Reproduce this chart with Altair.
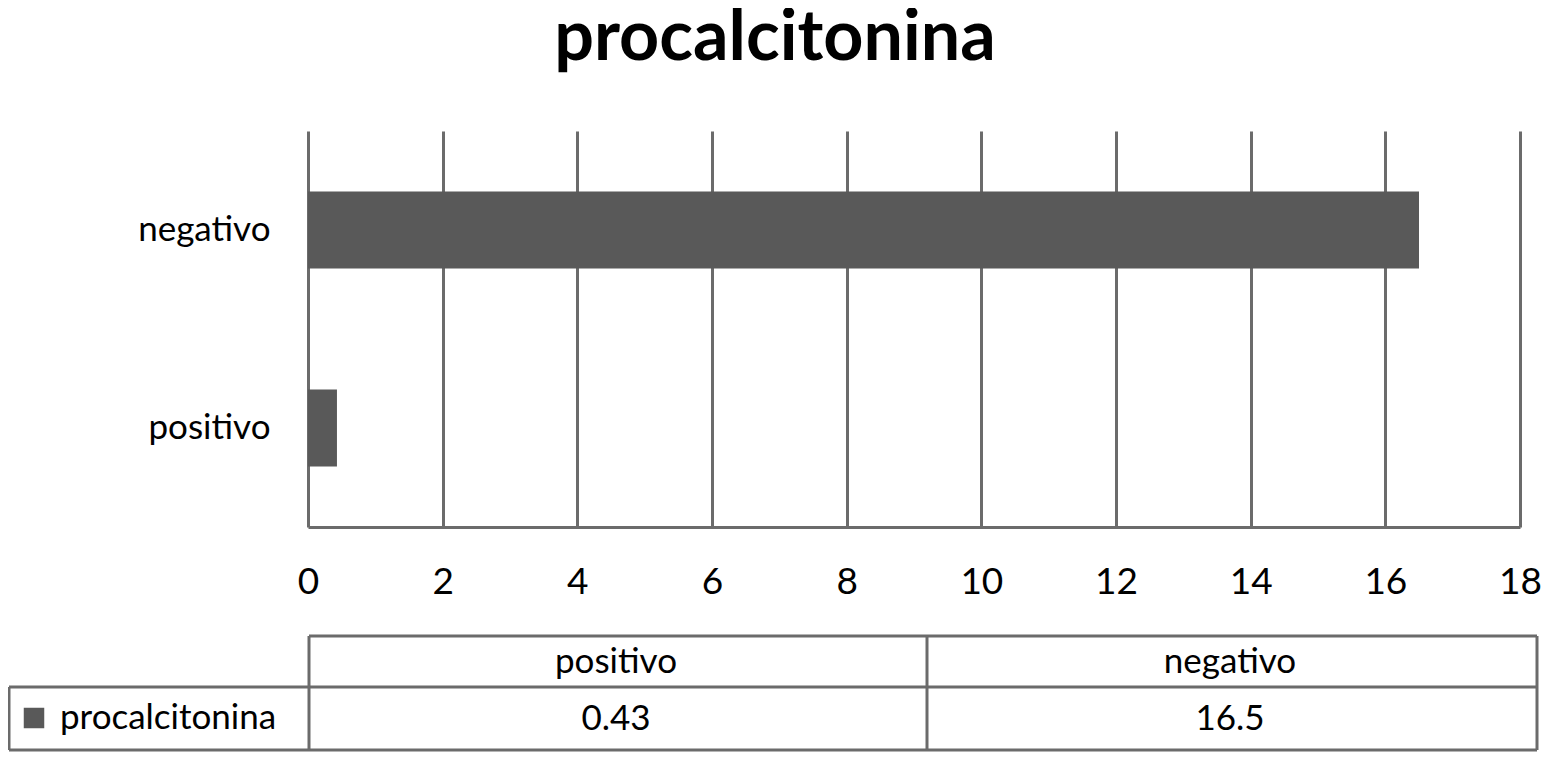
import altair as alt
import pandas as pd

# ---- data ----
categories = ["positivo", "negativo"]
values = [0.43, 16.5]
series_name = "procalcitonina"
value_labels = ["0.43", "16.5"]
x_ticks = [0, 2, 4, 6, 8, 10, 12, 14, 16, 18]
chart_title = "procalcitonina"

df = pd.DataFrame({
    "cat": categories,
    "val": values,
    "label": value_labels,
    "series": [series_name] * len(categories),
})

FONT = "Lato"
GRID = "#6b6b6b"
BAR = "#595959"

base = alt.Chart(df)

bars = base.mark_bar(color=BAR, size=77).encode(
    x=alt.X("val:Q", scale=alt.Scale(domain=[0, 18], nice=False),
            axis=alt.Axis(values=x_ticks, title=None, grid=True, gridColor=GRID, gridWidth=3,
                          gridOpacity=1, domain=True, domainColor=GRID, domainWidth=3,
                          ticks=False, labelFontSize=37, labelColor="black", labelFont=FONT,
                          labelPadding=37, labelFlush=False)),
    y=alt.Y("cat:N", sort=["negativo", "positivo"],
            scale=alt.Scale(paddingInner=0, paddingOuter=0),
            axis=alt.Axis(title=None, domain=False, ticks=False, grid=False,
                          labelFontSize=35, labelColor="black", labelFont=FONT,
                          labelPadding=38)),
)

table_x = alt.X("cat:N", sort=categories,
                scale=alt.Scale(range=[1, 1229], paddingInner=0, paddingOuter=0),
                axis=None)

header = base.mark_text(fontSize=35, font=FONT, color="black", baseline="middle").encode(
    x=table_x, y=alt.value(531), text="cat:N")
vals = base.mark_text(fontSize=35, font=FONT, color="black", baseline="middle").encode(
    x=table_x, y=alt.value(588), text="label:N")

one = alt.Data(values=[{}])
def hrule(x1, x2, y):
    return alt.Chart(one).mark_rule(color=GRID, strokeWidth=3).encode(
        x=alt.value(x1), x2=alt.value(x2), y=alt.value(y))
def vrule(x, y1, y2):
    return alt.Chart(one).mark_rule(color=GRID, strokeWidth=3).encode(
        x=alt.value(x), y=alt.value(y1), y2=alt.value(y2))

rules = [
    hrule(1, 1229, 505),
    hrule(-299, 1229, 556),
    hrule(-299, 1229, 619),
    vrule(1, 505, 619),
    vrule(619, 505, 619),
    vrule(1229, 505, 619),
    vrule(-299, 556, 619),
]

legend_sq = alt.Chart(df.iloc[:1]).mark_point(shape="square", filled=True, color=BAR, size=420,
                                                opacity=1).encode(
    x=alt.value(-274), y=alt.value(587))
legend_tx = alt.Chart(df.iloc[:1]).mark_text(fontSize=35, font=FONT, color="black", align="left",
                                               baseline="middle").encode(
    x=alt.value(-248), y=alt.value(587), text="series:N")

chart = alt.layer(bars, header, vals, *rules, legend_sq, legend_tx).resolve_scale(
    x="independent"
).properties(
    width=1212, height=396,
    padding={"left": 300, "top": 123, "right": 24, "bottom": 228},
    autosize="none",
    title=alt.TitleParams(chart_title, fontSize=70, font=FONT, fontWeight="bold", color="black",
                          anchor="middle", dx=-139, offset=56),
).configure_view(stroke=None)

chart.save("out.html", embed_options={"renderer": "svg", "actions": False})
